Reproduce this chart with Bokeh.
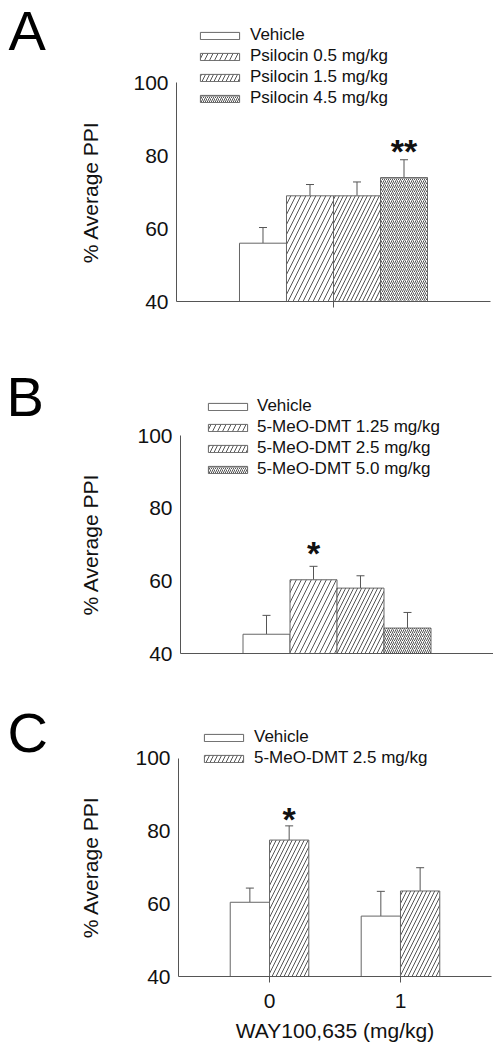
import math
from bokeh.plotting import figure
from bokeh.models import (Range1d, FixedTicker, Legend, LegendItem,
                          Whisker, TeeHead, ColumnDataSource)
from bokeh.layouts import column, row
from bokeh.core.properties import value
from bokeh.embed import file_html
from bokeh.resources import INLINE

FONT = "Liberation Sans"
AXIS_COLOR = "#555555"
BAR_LINE = "#666666"
HATCH_COLOR = "#555555"
TEXT_COLOR = "#111111"

# ---------------- data ----------------
y_ticks = [40, 60, 80, 100]
y_label = "% Average PPI"

a_letter = "A"
a_labels = ["Vehicle", "Psilocin 0.5 mg/kg", "Psilocin 1.5 mg/kg", "Psilocin 4.5 mg/kg"]
a_means = [56.0, 69.0, 69.0, 74.0]
a_sem = [4.3, 3.1, 3.8, 4.9]
a_sig = ["", "", "", "**"]

b_letter = "B"
b_labels = ["Vehicle", "5-MeO-DMT 1.25 mg/kg", "5-MeO-DMT 2.5 mg/kg", "5-MeO-DMT 5.0 mg/kg"]
b_means = [45.3, 60.3, 58.0, 47.0]
b_sem = [5.2, 3.7, 3.4, 4.3]
b_sig = ["", "*", "", ""]

c_letter = "C"
c_doses = [0, 1]
c_dose_labels = ["0", "1"]
c_labels = ["Vehicle", "5-MeO-DMT 2.5 mg/kg"]
c_vehicle_means = [60.4, 56.6]
c_vehicle_sem = [3.9, 6.8]
c_dmt_means = [77.5, 63.5]
c_dmt_sem = [3.9, 6.4]
c_vehicle_sig = ["", ""]
c_dmt_sig = ["*", ""]
c_xlabel = "WAY100,635 (mg/kg)"

# hatch styles (pattern, scale) per series
a_hatch = [(None, 1), ("/", 10), ("/", 8), ("/", 4)]
b_hatch = [(None, 1), ("/", 10), ("/", 8), ("/", 4)]
c_hatch = [(None, 1), ("/", 8)]

LEFT_W = 110


def make_panel(h, bl, br, bt, bb, x_range, y_end):
    p = figure(width=493 - LEFT_W, height=h, x_range=x_range, y_range=Range1d(40, y_end),
               output_backend="svg", toolbar_location=None, title=None,
               min_border_left=bl, min_border_right=br, min_border_top=bt,
               min_border_bottom=bb)
    p.outline_line_color = None
    p.grid.visible = False
    p.background_fill_color = "white"
    ya = p.yaxis[0]
    ya.ticker = FixedTicker(ticks=y_ticks)
    ya.bounds = (y_ticks[0], y_ticks[-1])
    ya.major_tick_out = 0
    ya.major_tick_in = 0
    ya.minor_tick_out = 0
    ya.minor_tick_in = 0
    ya.axis_line_color = AXIS_COLOR
    ya.major_label_text_font = FONT
    ya.major_label_text_font_size = "21px"
    ya.major_label_text_color = TEXT_COLOR
    ya.major_label_standoff = 8
    xa = p.xaxis[0]
    xa.axis_line_color = AXIS_COLOR
    xa.major_tick_line_color = AXIS_COLOR
    xa.major_tick_in = 0
    xa.minor_tick_out = 0
    xa.minor_tick_in = 0
    xa.major_label_text_font = FONT
    xa.major_label_text_font_size = "21px"
    xa.major_label_text_color = TEXT_COLOR
    return p


def make_side(main, h, bt, bb, letter, letter_x, letter_y):
    """Left strip holding the panel letter and the y-axis title, sharing the y scale."""
    s = figure(width=LEFT_W, height=h, x_range=Range1d(0, LEFT_W), y_range=main.y_range,
               output_backend="svg", toolbar_location=None, title=None,
               x_axis_location=None, y_axis_location=None,
               min_border_left=0, min_border_right=0, min_border_top=bt,
               min_border_bottom=bb)
    s.outline_line_color = None
    s.grid.visible = False
    s.text(x=[letter_x], y=[letter_y], text=[letter], text_font=value(FONT),
           text_font_size="56px", text_align="left", text_baseline="middle",
           text_color="#000000")
    s.text(x=[90], y=[(y_ticks[0] + y_ticks[-1]) / 2], text=[y_label], text_font=value(FONT),
           text_font_size="21px", text_align="center", text_baseline="middle",
           angle=math.pi / 2, text_color=TEXT_COLOR)
    return s


def add_bars(p, xs, width, means, sems, sigs, hatch, label, items, star_offset):
    src = ColumnDataSource(dict(x=xs, top=means, upper=[m + s for m, s in zip(means, sems)],
                                sig=sigs))
    pat, sc = hatch
    kw = {}
    if pat:
        kw = dict(hatch_pattern=pat, hatch_scale=sc, hatch_color=HATCH_COLOR, hatch_weight=1)
    r = p.vbar(x="x", top="top", bottom=40, width=width, source=src,
               fill_color="white", line_color=BAR_LINE, line_width=1, **kw)
    p.add_layout(Whisker(source=src, base="x", lower="top", upper="upper",
                         dimension="height", line_color=AXIS_COLOR, line_width=1,
                         lower_head=None,
                         upper_head=TeeHead(size=8, line_color=AXIS_COLOR, line_width=1)))
    p.text(x="x", y="upper", text="sig", source=src, text_font=value(FONT),
           text_font_size="34px", text_font_style="bold", text_align="center",
           text_baseline="alphabetic", text_color=TEXT_COLOR, y_offset=star_offset)
    items.append(LegendItem(label=label, renderers=[r]))


def add_legend(p, items, x, y, standoff):
    lg = Legend(items=items, location=(x, y), orientation="vertical",
                glyph_width=49, glyph_height=9, label_standoff=standoff, label_height=20,
                spacing=1, padding=0, margin=0, border_line_color=None,
                background_fill_alpha=0, label_text_font=FONT,
                label_text_font_size="17px", label_text_color=TEXT_COLOR)
    p.add_layout(lg)


# ---------------- panel A ----------------
pa = make_panel(325, 176 - LEFT_W, 3, 8, 24, Range1d(-3.34, 3.34), 120.4)
pa.xaxis[0].ticker = FixedTicker(ticks=[0])
pa.xaxis[0].major_label_overrides = {0: ""}
pa.xaxis[0].major_label_text_font_size = "1px"
pa.xaxis[0].major_tick_out = 6
items = []
for i in range(4):
    add_bars(pa, [i - 1.5], 1.0, [a_means[i]], [a_sem[i]], [a_sig[i]], a_hatch[i],
             a_labels[i], items, -9)
add_legend(pa, items, 19, 193, 6)
sa = make_side(pa, 325, 8, 24, a_letter, 8, 114.3)

# ---------------- panel B ----------------
pb = make_panel(345, 180 - LEFT_W, 0, 0, 17, Range1d(-3.33, 3.33), 130.3)
pb.xaxis[0].ticker = FixedTicker(ticks=[])
pb.xaxis[0].major_tick_out = 0
items = []
for i in range(4):
    add_bars(pb, [i - 1.5], 1.0, [b_means[i]], [b_sem[i]], [b_sig[i]], b_hatch[i],
             b_labels[i], items, -13)
add_legend(pb, items, 23, 174, 5)
sb = make_side(pb, 345, 0, 17, b_letter, 6, 110.7)

# ---------------- panel C ----------------
pc = make_panel(378, 178 - LEFT_W, 2, 0, 72, Range1d(-0.695, 1.695), 124.1)
pc.xaxis[0].ticker = FixedTicker(ticks=c_doses)
pc.xaxis[0].major_label_overrides = {d: l for d, l in zip(c_doses, c_dose_labels)}
pc.xaxis[0].major_tick_out = 6
pc.xaxis[0].major_label_standoff = 11
pc.xaxis[0].axis_label = c_xlabel
pc.xaxis[0].axis_label_text_font = FONT
pc.xaxis[0].axis_label_text_font_size = "21px"
pc.xaxis[0].axis_label_text_font_style = "normal"
pc.xaxis[0].axis_label_text_color = TEXT_COLOR
pc.xaxis[0].axis_label_standoff = 8
items = []
add_bars(pc, [d - 0.15 for d in c_doses], 0.3, c_vehicle_means, c_vehicle_sem, c_vehicle_sig,
         c_hatch[0], c_labels[0], items, -7)
add_bars(pc, [d + 0.15 for d in c_doses], 0.3, c_dmt_means, c_dmt_sem, c_dmt_sig,
         c_hatch[1], c_labels[1], items, -7)
add_legend(pc, items, 21, 208, 6)
sc_ = make_side(pc, 378, 0, 72, c_letter, 7, 107.0)

layout = column(row(sa, pa, spacing=0), row(sb, pb, spacing=0), row(sc_, pc, spacing=0),
                spacing=0)
open("out.html", "w").write(file_html(layout, INLINE))
